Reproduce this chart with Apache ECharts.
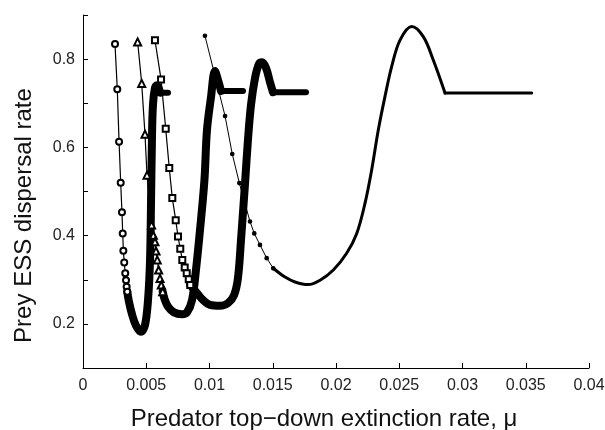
<!DOCTYPE html>
<html>
<head>
<meta charset="utf-8">
<script src="https://cdn.jsdelivr.net/npm/echarts@6/dist/echarts.min.js"></script>
<style>
html, body { margin: 0; padding: 0; background: #fff; }
#main { width: 605px; height: 430px; }
</style>
</head>
<body>
<div id="main"></div>
<script>
// sparse marker parts of each curve [mu, dispersal rate]
var circlePts = [[0.00253,0.834],[0.00271,0.732],[0.00285,0.613],[0.00298,0.520],[0.00308,0.453],[0.00314,0.405],
	[0.00319,0.366],[0.00326,0.339],[0.00334,0.315],[0.00340,0.299],[0.00345,0.284],[0.00350,0.273]];
var trianglePts = [[0.00432,0.839],[0.00464,0.745],[0.00490,0.630],[0.00506,0.537],[0.00542,0.424],[0.00556,0.401],
	[0.00569,0.386],[0.00577,0.365],[0.00587,0.345],[0.00598,0.322],[0.00609,0.303],[0.00619,0.288],[0.00630,0.273]];
var squarePts = [[0.00569,0.843],[0.00617,0.754],[0.00654,0.642],[0.00682,0.553],[0.00706,0.485],[0.00733,0.435],
	[0.00751,0.398],[0.00769,0.370],[0.00785,0.345],[0.00804,0.328],[0.00820,0.315],[0.00836,0.301],[0.00848,0.288]];
var dotPts = [[0.00964,0.853],[0.01123,0.671],[0.01180,0.585],[0.01236,0.519],[0.01320,0.432],[0.01354,0.405],
	[0.01399,0.379],[0.01452,0.349],[0.01504,0.326]];

// dense parts (markers merge into a thick band), up to the plateau
var band1 = [[0.00350,0.273],[0.00362,0.252],[0.00387,0.222],[0.00419,0.196],[0.00458,0.182],[0.00490,0.197],
	[0.00514,0.254],[0.00530,0.345],[0.00538,0.481],[0.00545,0.617],[0.00553,0.696],[0.00569,0.735],
	[0.00585,0.741],[0.00601,0.732],[0.00612,0.724]];
var band2 = [[0.00630,0.273],[0.00645,0.256],[0.00672,0.239],[0.00719,0.226],[0.00783,0.222],[0.00822,0.226],
	[0.00862,0.254],[0.00893,0.322],[0.00925,0.413],[0.00960,0.526],[0.00980,0.639],[0.01012,0.714],
	[0.01043,0.773],[0.01067,0.753],[0.01091,0.728]];
var band3 = [[0.00848,0.288],[0.00901,0.270],[0.00949,0.254],[0.01004,0.243],[0.01083,0.241],[0.01146,0.247],
	[0.01194,0.265],[0.01225,0.304],[0.01249,0.390],[0.01281,0.519],[0.01304,0.617],[0.01328,0.696],
	[0.01360,0.757],[0.01391,0.789],[0.01415,0.793],[0.01447,0.780],[0.01478,0.748],[0.01502,0.725]];
var band4 = [[0.01504,0.326],[0.01597,0.306],[0.01676,0.295],[0.01779,0.289],[0.01874,0.299],[0.01979,0.322],
	[0.02084,0.360],[0.02164,0.405],[0.02229,0.473],[0.02282,0.549],[0.02334,0.639],[0.02387,0.715],
	[0.02440,0.783],[0.02506,0.843],[0.02598,0.874],[0.02690,0.851],[0.02769,0.798],[0.02862,0.723]];

// flat plateaus at the end of each curve
var plateau1 = [[0.00612,0.724],[0.00672,0.724]];
var plateau2 = [[0.01091,0.728],[0.01265,0.728]];
var plateau3 = [[0.01502,0.725],[0.01763,0.725]];
var plateau4 = [[0.02862,0.723],[0.03547,0.723]];

var FONT = 'Liberation Sans, Arial, Helvetica, sans-serif';

function markerSeries(data, symbol, size, width) {
	return {
		type: 'line',
		data: data,
		symbol: symbol,
		symbolSize: size,
		showSymbol: true,
		showAllSymbol: true,
		lineStyle: { color: '#000', width: width },
		itemStyle: { color: '#000', borderColor: '#000', borderWidth: 1.2 }
	};
}

function bandSeries(data, width, smooth) {
	return {
		type: 'line',
		data: data,
		showSymbol: false,
		smooth: smooth,
		lineStyle: { color: '#000', width: width, join: 'round', cap: 'round' }
	};
}

var chart = echarts.init(document.getElementById('main'));
var option = {
	animation: false,
	backgroundColor: '#fff',
	grid: { left: 83, right: 16, top: 15, bottom: 62, containLabel: false, outerBoundsMode: 'none' },
	xAxis: {
		type: 'value',
		min: 0, max: 0.04, interval: 0.005,
		name: 'Predator top\u2212down extinction rate, \u03bc',
		nameLocation: 'middle',
		nameGap: 39,
		nameTextStyle: { fontFamily: FONT, fontSize: 24, color: '#111', padding: [0, 24, 0, 0] },
		axisLine: { lineStyle: { color: '#000', width: 1 } },
		axisTick: { inside: true, length: 5, lineStyle: { color: '#000' } },
		axisLabel: {
			fontFamily: FONT, fontSize: 16, color: '#222', margin: 10,
			formatter: function (v) { return String(+v.toFixed(3)); }
		},
		splitLine: { show: false }
	},
	yAxis: {
		type: 'value',
		min: 0.1, max: 0.9, interval: 0.1,
		name: 'Prey ESS dispersal rate',
		nameLocation: 'middle',
		nameGap: 47,
		nameRotate: 90,
		nameTextStyle: { fontFamily: FONT, fontSize: 24, color: '#111', padding: [0, 48, 0, 0] },
		axisLine: { show: true, lineStyle: { color: '#000', width: 1 } },
		axisTick: { show: true, inside: true, length: 5, lineStyle: { color: '#000' } },
		axisLabel: {
			fontFamily: FONT, fontSize: 16, color: '#222', margin: 8,
			formatter: function (v) {
				var k = Math.round(v * 10);
				return (k % 2 === 0 && k > 1 && k < 9) ? v.toFixed(1) : '';
			}
		},
		splitLine: { show: false }
	},
	series: [
		markerSeries(trianglePts, 'emptyTriangle', 7, 1.2),
		markerSeries(circlePts, 'emptyCircle', 6, 1.2),
		bandSeries(band1, 8, 0.35),
		bandSeries(plateau1, 6, false),
		markerSeries(squarePts, 'emptyRect', 6, 1.2),
		markerSeries(dotPts, 'circle', 3.5, 1),
		bandSeries(band2, 8, 0.35),
		bandSeries(plateau2, 6, false),
		bandSeries(band3, 8, 0.35),
		bandSeries(plateau3, 6, false),
		bandSeries(band4, 3, 0.35),
		bandSeries(plateau4, 3, false)
	]
};
chart.setOption(option);
</script>
</body>
</html>
